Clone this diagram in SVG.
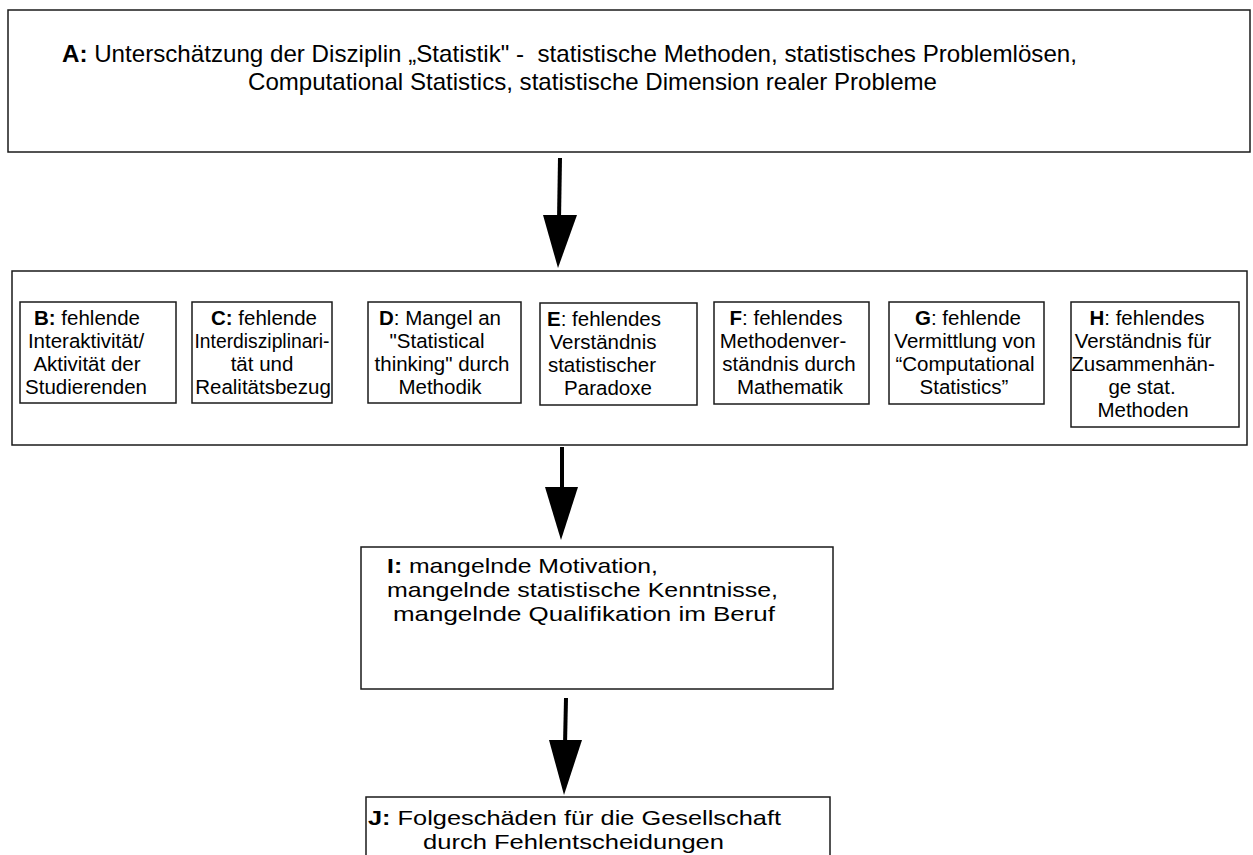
<svg xmlns="http://www.w3.org/2000/svg" width="1253" height="855" viewBox="0 0 1253 855">
<style>
  .box { fill: #ffffff; stroke: #1a1a1a; stroke-width: 1.5; }
  .t { font-family: "Liberation Sans", Arial, sans-serif; fill: #000; }
  .big { font-size: 24px; }
  .sm { font-size: 20.5px; text-anchor: middle; }
  .mid { font-size: 21px; }
  .b { font-weight: bold; }
  .shaft { stroke: #000; stroke-width: 4; fill: none; }
  .head { fill: #000; stroke: none; }
</style>
<rect x="0" y="0" width="1253" height="855" fill="#ffffff"/>

<g id="connectors">
  <line class="shaft" x1="560" y1="158" x2="559" y2="220"/>
  <polygon class="head" points="543,215 577,215 558,268"/>
  <line class="shaft" x1="562" y1="447" x2="562" y2="492"/>
  <polygon class="head" points="545,487 578,487 561,540"/>
  <line class="shaft" x1="566" y1="698" x2="565" y2="745"/>
  <polygon class="head" points="549,740 582,740 564,795"/>
</g>

<g id="nodeA">
  <rect class="box" x="8" y="10" width="1242" height="142"/>
  <text class="t big" x="62" y="62" textLength="1015" lengthAdjust="spacingAndGlyphs" style="white-space:pre"><tspan class="b">A:</tspan> Unterschätzung der Disziplin „Statistik" -  statistische Methoden, statistisches Problemlösen,</text>
  <text class="t big" x="248" y="90" textLength="689" lengthAdjust="spacingAndGlyphs">Computational Statistics, statistische Dimension realer Probleme</text>
</g>

<g id="group">
  <rect class="box" x="12" y="271" width="1235" height="174"/>
</g>

<g id="nodeB">
  <rect class="box" x="20" y="302" width="156" height="101"/>
  <text class="t sm" x="87" y="325"><tspan class="b">B:</tspan> fehlende</text>
  <text class="t sm" x="86" y="348">Interaktivität/</text>
  <text class="t sm" x="87" y="371">Aktivität der</text>
  <text class="t sm" x="86" y="394">Studierenden</text>
</g>

<g id="nodeC">
  <rect class="box" x="192" y="302" width="140" height="101"/>
  <text class="t sm" x="264" y="325"><tspan class="b">C:</tspan> fehlende</text>
  <text class="t sm" x="262" y="348" textLength="135" lengthAdjust="spacingAndGlyphs">Interdisziplinari-</text>
  <text class="t sm" x="262" y="371">tät und</text>
  <text class="t sm" x="263" y="394">Realitätsbezug</text>
</g>

<g id="nodeD">
  <rect class="box" x="368" y="302" width="153" height="101"/>
  <text class="t sm" x="440" y="325"><tspan class="b">D</tspan>: Mangel an</text>
  <text class="t sm" x="437" y="348">"Statistical</text>
  <text class="t sm" x="442" y="371">thinking" durch</text>
  <text class="t sm" x="440" y="394">Methodik</text>
</g>

<g id="nodeE">
  <rect class="box" x="540" y="303" width="157" height="102"/>
  <text class="t sm" x="604" y="326"><tspan class="b">E</tspan>: fehlendes</text>
  <text class="t sm" x="603" y="349">Verständnis</text>
  <text class="t sm" x="602" y="372">statistischer</text>
  <text class="t sm" x="608" y="395">Paradoxe</text>
</g>

<g id="nodeF">
  <rect class="box" x="714" y="302" width="155" height="102"/>
  <text class="t sm" x="786" y="325"><tspan class="b">F</tspan>: fehlendes</text>
  <text class="t sm" x="783" y="348">Methodenver-</text>
  <text class="t sm" x="789" y="371">ständnis durch</text>
  <text class="t sm" x="790" y="394">Mathematik</text>
</g>

<g id="nodeG">
  <rect class="box" x="889" y="302" width="155" height="102"/>
  <text class="t sm" x="968" y="325"><tspan class="b">G</tspan>: fehlende</text>
  <text class="t sm" x="965" y="348">Vermittlung von</text>
  <text class="t sm" x="965" y="371">“Computational</text>
  <text class="t sm" x="964" y="394">Statistics”</text>
</g>

<g id="nodeH">
  <rect class="box" x="1071" y="302" width="168" height="125"/>
  <text class="t sm" x="1147" y="325"><tspan class="b">H</tspan>: fehlendes</text>
  <text class="t sm" x="1143" y="348">Verständnis für</text>
  <text class="t sm" x="1143" y="371">Zusammenhän-</text>
  <text class="t sm" x="1142" y="394">ge stat.</text>
  <text class="t sm" x="1143" y="417">Methoden</text>
</g>

<g id="nodeI">
  <rect class="box" x="361" y="547" width="472" height="142"/>
  <text class="t mid" x="387" y="573" textLength="271" lengthAdjust="spacingAndGlyphs"><tspan class="b">I:</tspan> mangelnde Motivation,</text>
  <text class="t mid" x="387" y="597" textLength="391" lengthAdjust="spacingAndGlyphs">mangelnde statistische Kenntnisse,</text>
  <text class="t mid" x="393" y="621" textLength="382" lengthAdjust="spacingAndGlyphs">mangelnde Qualifikation im Beruf</text>
</g>

<g id="nodeJ">
  <rect class="box" x="366" y="797" width="464" height="70"/>
  <text class="t mid" x="368" y="825" textLength="413" lengthAdjust="spacingAndGlyphs"><tspan class="b">J:</tspan> Folgeschäden für die Gesellschaft</text>
  <text class="t mid" x="423" y="849" textLength="301" lengthAdjust="spacingAndGlyphs">durch Fehlentscheidungen</text>
</g>
</svg>
